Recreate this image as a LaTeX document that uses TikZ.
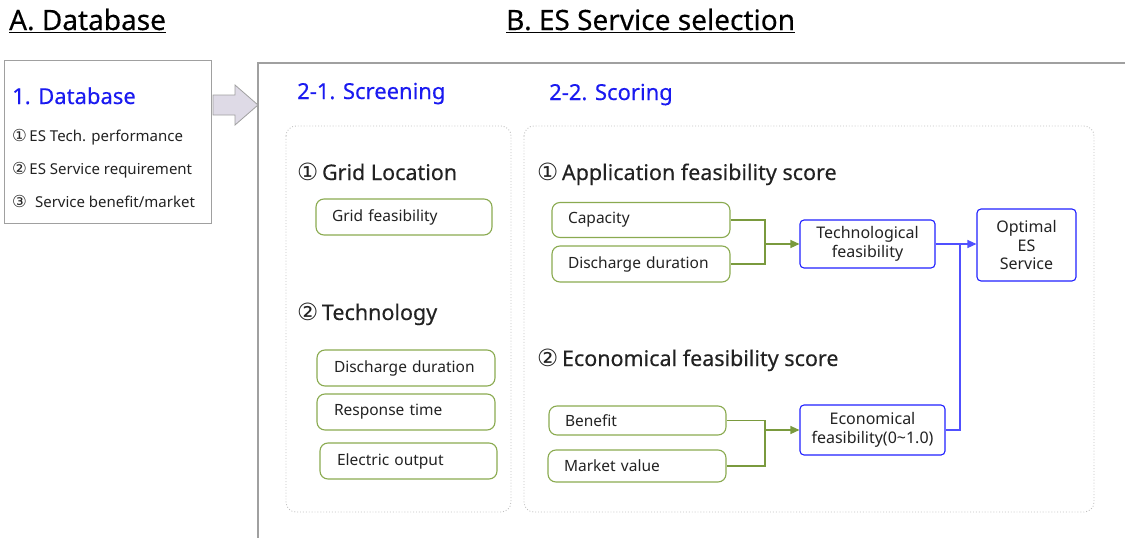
\documentclass[tikz,border=0pt]{standalone}
\usepackage{fontspec}
\setmainfont{Noto Sans}
\newfontfamily\semifont{Noto Sans}[FakeBold=0.35]
\newfontfamily\circfont{DejaVu Sans}[Scale=1.1]
\usetikzlibrary{arrows.meta}
\definecolor{bxgray}{HTML}{A0A0A0}
\definecolor{dotgray}{HTML}{C0C0C0}
\definecolor{hblue}{HTML}{1A1AF0}
\definecolor{bblue}{HTML}{2020FF}
\definecolor{lblue}{HTML}{5050FF}
\definecolor{ggreen}{HTML}{7A9A3E}
\definecolor{lgreen}{HTML}{8AAA50}
\definecolor{arrowfill}{HTML}{DEDAE6}
\definecolor{txt}{HTML}{222222}
\newcommand{\cn}[1]{{\circfont #1}}
\tikzset{
  gbox/.style={draw=lgreen, line width=1.1pt, rounded corners=8pt, align=left, inner ysep=0pt, font=\fontsize{15.5}{18}\selectfont, text=txt},
  bbox/.style={draw=bblue, line width=1.1pt, rounded corners=4pt, align=center, inner sep=0pt, font=\fontsize{16}{18.5}\selectfont, text=txt},
  gline/.style={draw=ggreen, line width=1.2pt},
  garrow/.style={gline, -{Triangle[length=9pt,width=8pt]}},
  bline/.style={draw=lblue, line width=1.2pt},
  barrow/.style={bline, -{Triangle[length=9pt,width=8pt]}},
  head/.style={anchor=base west, inner sep=0pt, text=hblue, font=\semifont\fontsize{22}{26}\selectfont},
  sect/.style={anchor=base west, inner sep=0pt, text=txt, font=\semifont\fontsize{21.5}{25}\selectfont},
  item/.style={anchor=base west, inner sep=0pt, text=txt, font=\fontsize{15}{18}\selectfont},
  title/.style={anchor=base west, inner sep=0pt, text=black, font=\semifont\fontsize{28}{32}\selectfont},
}
\begin{document}
\begin{tikzpicture}[x=1pt,y=-1pt]
\useasboundingbox (0,0) rectangle (1125,538);
% titles
\node[title] (tA) at (9,30) {\underline{A. Database}};
\node[title] (tB) at (506,30) {\underline{B. ES Service selection}};
% database box
\draw[draw=bxgray, line width=1pt] (4,60) rectangle (211,223);
\node[head] (h1) at (12,104) {1. Database};
\node[item] (i1) at (12,141) {\cn{①}\,ES Tech. performance};
\node[item] (i2) at (12,174) {\cn{②}\,ES Service requirement};
\node[item] (i3) at (12,207) {\cn{③}\; Service benefit/market};
% block arrow
\draw[draw=bxgray, fill=arrowfill, line width=0.8pt] (213,95) -- (235,95) -- (235,85) -- (258,105) -- (235,125) -- (235,115) -- (213,115) -- cycle;
% big frame
\draw[draw=bxgray, line width=1.5pt] (1125,63) -- (258,63) -- (258,538);
\node[head] (h21) at (297,99) {2-1. Screening};
\node[head] (h22) at (549,100) {2-2. Scoring};
% dotted panels
\draw[draw=dotgray, dotted, line width=0.9pt, rounded corners=10pt] (286,126) rectangle (511,512);
\draw[draw=dotgray, dotted, line width=0.9pt, rounded corners=10pt] (524,126) rectangle (1094,512);
% screening
\node[sect] (s1) at (297,180) {\cn{①}\,Grid Location};
\node[gbox, minimum height=36pt, inner xsep=16pt, text width=144pt] (gf) at (404,217) {Grid feasibility};
\node[sect] (s2) at (297,320) {\cn{②}\,Technology};
\node[gbox, minimum height=36pt, inner xsep=17pt, text width=144pt] (dd1) at (406,368) {Discharge duration};
\node[gbox, minimum height=36pt, inner xsep=17pt, text width=144pt] (rt) at (406,412) {Response time};
\node[gbox, minimum height=36pt, inner xsep=17pt, text width=143pt] (eo) at (408.5,461) {Electric output};
% scoring
\node[sect] (s3) at (537,180) {\cn{①}\,Application feasibility score};
\node[gbox, minimum height=35pt, inner xsep=16pt, text width=146pt] (cap) at (641,220) {Capacity};
\node[gbox, minimum height=36pt, inner xsep=16pt, text width=146pt] (dd2) at (641,264) {Discharge duration};
\node[bbox, minimum width=135pt, minimum height=48pt] (tech) at (867.5,244) {Technological\\feasibility};
\node[bbox, minimum width=99pt, minimum height=72pt] (opt) at (1026.5,245) {Optimal\\ES\\Service};
\node[sect] (s4) at (537,366) {\cn{②}\,Economical feasibility score};
\node[gbox, minimum height=29pt, inner xsep=16pt, text width=145pt] (ben) at (637.5,420.5) {Benefit};
\node[gbox, minimum height=32pt, inner xsep=16pt, text width=146pt] (mv) at (637,466) {Market value};
\node[bbox, minimum width=145pt, minimum height=50pt] (econ) at (872.5,430) {Economical\\feasibility(0\textasciitilde1.0)};
% connectors
\coordinate (j1) at (765,244);
\draw[gline] (cap.east) -- (cap.east -| j1) -- (dd2.east -| j1) -- (dd2.east);
\draw[garrow] (j1) -- (tech.west);
\coordinate (j2) at (765,430);
\draw[gline] (ben.east) -- (ben.east -| j2) -- (mv.east -| j2) -- (mv.east);
\draw[garrow] (j2) -- (econ.west);
\coordinate (jb) at (960,244);
\draw[barrow] (tech.east) -- (tech.east -| opt.west);
\draw[bline] (econ.east) -| (jb);
\end{tikzpicture}
\end{document}
